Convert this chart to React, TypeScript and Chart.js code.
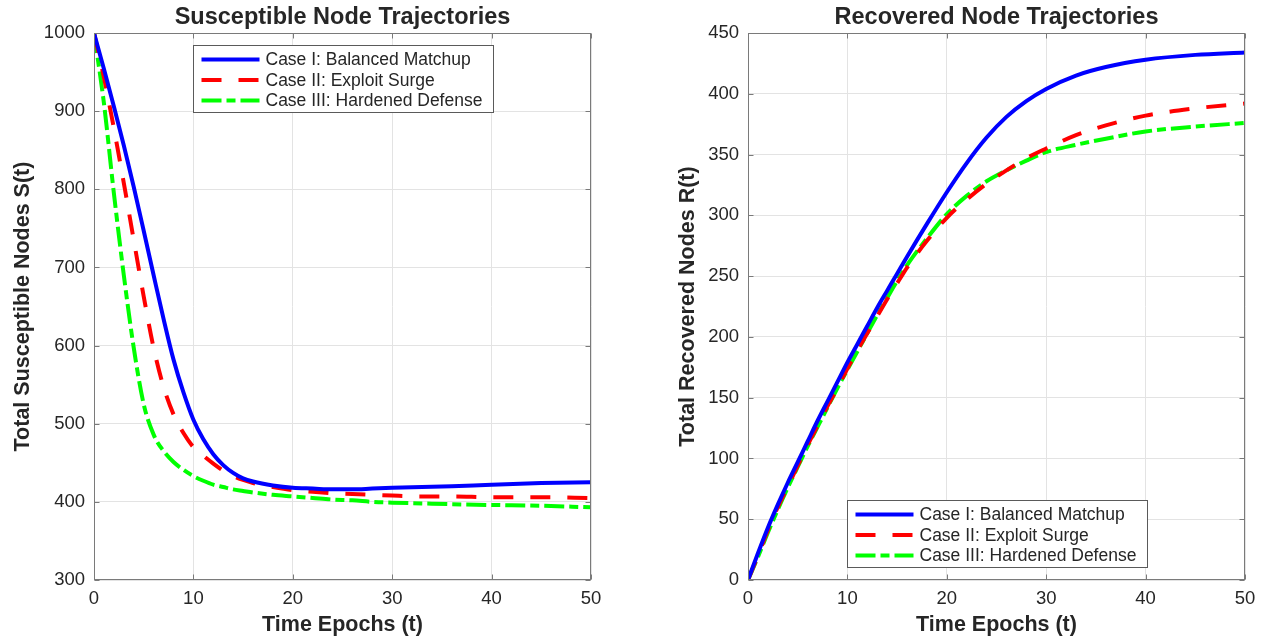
import React, { useEffect, useRef } from "react";
import { Chart, registerables } from "chart.js";

Chart.register(...registerables);

// ---- Data ----
const timeSteps = [0, 1, 2, 3, 4, 5, 6, 7, 8, 9, 10, 11, 12, 13, 14, 15, 16, 18, 20, 22, 24, 26, 28, 30, 33, 36, 40, 45, 50];

const susceptibleCaseI = [1000, 954, 906, 856, 803, 747, 690, 634, 582, 540, 505, 480, 461, 447, 437, 430, 426, 421, 418, 417, 416, 416, 417, 418, 419, 420, 422, 424, 425];
const susceptibleCaseII = [1000, 943, 878, 808, 735, 663, 597, 547, 512, 488, 470, 459, 449, 440, 433, 428, 424, 419, 415, 413, 411, 410, 409, 408, 407, 407, 406, 406, 405];
const susceptibleCaseIII = [1000, 910, 795, 690, 597, 525, 486, 465, 451, 441, 433, 427, 422, 419, 416, 414, 412, 409, 407, 405, 403, 402, 400, 399, 398, 397, 396, 395, 393];

const recoveredCaseI = [0, 22, 43, 62, 80, 97, 114, 131, 147, 163, 179, 194, 209, 224, 238, 252, 266, 293, 319, 343, 364, 381, 394, 404, 415, 422, 428, 432, 434];
const recoveredCaseII = [0, 20, 41, 60, 77, 94, 111, 127, 143, 158, 174, 189, 203, 217, 231, 244, 257, 279, 298, 313, 326, 337, 347, 355, 366, 374, 382, 388, 392];
const recoveredCaseIII = [0, 19, 39, 58, 76, 93, 110, 126, 142, 158, 173, 188, 203, 218, 232, 246, 259, 281, 301, 316, 328, 337, 345, 352, 358, 363, 369, 373, 376];

const caseLabels = ["Case I: Balanced Matchup", "Case II: Exploit Surge", "Case III: Hardened Defense"];
const caseColors = ["#0000ff", "#ff0000", "#00ff00"];
const caseDashes: number[][] = [[], [20, 17], [20, 5, 9, 5]];

const xTickStep = 10;
const xRange = [0, 50];
const susceptibleRange = [300, 1000];
const susceptibleStep = 100;
const recoveredRange = [0, 450];
const recoveredStep = 50;

const FONT = "'Liberation Sans', Arial, Helvetica, sans-serif";
const TEXT = "#262626";

function makeDatasets(series: number[][]) {
  return series.map((vals, i) => ({
    label: caseLabels[i],
    data: timeSteps.map((t, j) => ({ x: t, y: vals[j] })),
    borderColor: caseColors[i],
    backgroundColor: caseColors[i],
    borderWidth: 4,
    borderDash: caseDashes[i],
    pointRadius: 0,
    cubicInterpolationMode: "monotone" as const,
    fill: false,
  }));
}

function boxLegendPlugin(legendAt: "top" | "bottom") {
  return {
    id: "matlabBoxLegend",
    afterDraw(chart: any) {
      const { ctx, chartArea: a, scales } = chart;
      ctx.save();
      // axes box
      const L = Math.round(a.left) + 0.5;
      const R = Math.round(a.right) - 0.5;
      const T = Math.round(a.top) + 0.5;
      const B = Math.round(a.bottom) - 0.5;
      ctx.strokeStyle = "#7a7a7a";
      ctx.lineWidth = 1;
      ctx.setLineDash([]);
      ctx.strokeRect(L, T, R - L, B - T);
      // inward ticks
      const tl = 5;
      ctx.beginPath();
      scales.x.ticks.forEach((t: any) => {
        const px = Math.round(scales.x.getPixelForValue(t.value)) + 0.5;
        ctx.moveTo(px, B);
        ctx.lineTo(px, B - tl);
        ctx.moveTo(px, T);
        ctx.lineTo(px, T + tl);
      });
      scales.y.ticks.forEach((t: any) => {
        const py = Math.round(scales.y.getPixelForValue(t.value)) + 0.5;
        ctx.moveTo(L, py);
        ctx.lineTo(L + tl, py);
        ctx.moveTo(R, py);
        ctx.lineTo(R - tl, py);
      });
      ctx.stroke();

      // legend
      const bw = 300;
      const bh = 67;
      const cx = (a.left + a.right) / 2;
      const bx = Math.round(cx - bw / 2) + 0.5;
      const by = legendAt === "top" ? Math.round(a.top + 12) + 0.5 : Math.round(a.bottom - 13 - bh) + 0.5;
      ctx.fillStyle = "#ffffff";
      ctx.fillRect(bx, by, bw, bh);
      ctx.strokeStyle = "#5a5a5a";
      ctx.lineWidth = 1;
      ctx.strokeRect(bx, by, bw, bh);
      const rowY = [14, 34.5, 55];
      chart.data.datasets.forEach((ds: any, i: number) => {
        const y = by + rowY[i];
        ctx.beginPath();
        ctx.strokeStyle = ds.borderColor;
        ctx.lineWidth = 4;
        ctx.setLineDash(ds.borderDash || []);
        ctx.moveTo(bx + 8, y);
        ctx.lineTo(bx + 66, y);
        ctx.stroke();
        ctx.setLineDash([]);
        ctx.fillStyle = TEXT;
        ctx.font = `17.5px ${FONT}`;
        ctx.textBaseline = "middle";
        ctx.textAlign = "left";
        ctx.fillText(ds.label, bx + 72, y + 1);
      });
      ctx.restore();
    },
  };
}

function makeConfig(
  title: string,
  yTitle: string,
  series: number[][],
  yRange: number[],
  yStep: number,
  yAxisWidth: number,
  padLeft: number,
  padRight: number,
  legendAt: "top" | "bottom"
): any {
  return {
    type: "line",
    data: { datasets: makeDatasets(series) },
    plugins: [boxLegendPlugin(legendAt)],
    options: {
      responsive: false,
      animation: false,
      events: [],
      layout: { padding: { left: padLeft, right: padRight, top: 0, bottom: 0 } },
      plugins: {
        legend: { display: false },
        tooltip: { enabled: false },
        title: {
          display: true,
          text: title,
          fullSize: false,
          color: TEXT,
          font: { family: FONT, size: 23.5, weight: "bold", lineHeight: 1.2 },
          padding: { top: 3, bottom: 1.8 },
        },
      },
      scales: {
        x: {
          type: "linear",
          min: xRange[0],
          max: xRange[1],
          afterFit: (s: any) => {
            s.height = 61;
          },
          border: { display: false },
          grid: { color: "#e3e3e3", lineWidth: 1, drawTicks: false },
          ticks: {
            stepSize: xTickStep,
            color: TEXT,
            padding: 8,
            maxRotation: 0,
            font: { family: FONT, size: 18.5 },
            callback: (v: number) => String(v),
          },
          title: {
            display: true,
            text: "Time Epochs (t)",
            color: TEXT,
            font: { family: FONT, size: 21.5, weight: "bold", lineHeight: 1.2 },
            padding: { top: 0, bottom: 3 },
          },
        },
        y: {
          type: "linear",
          min: yRange[0],
          max: yRange[1],
          afterFit: (s: any) => {
            s.width = yAxisWidth;
          },
          border: { display: false },
          grid: { color: "#e3e3e3", lineWidth: 1, drawTicks: false },
          ticks: {
            stepSize: yStep,
            color: TEXT,
            padding: 9,
            font: { family: FONT, size: 18.5 },
            callback: (v: number) => String(v),
          },
          title: {
            display: true,
            text: yTitle,
            color: TEXT,
            font: { family: FONT, size: 21.5, weight: "bold", lineHeight: 1.2 },
            padding: { top: 10.5, bottom: 0 },
          },
        },
      },
    },
  };
}

export default function App() {
  const leftRef = useRef<HTMLCanvasElement | null>(null);
  const rightRef = useRef<HTMLCanvasElement | null>(null);

  useEffect(() => {
    if (!leftRef.current || !rightRef.current) return;
    const c1 = new Chart(
      leftRef.current,
      makeConfig(
        "Susceptible Node Trajectories",
        "Total Susceptible Nodes S(t)",
        [susceptibleCaseI, susceptibleCaseII, susceptibleCaseIII],
        susceptibleRange,
        susceptibleStep,
        94,
        0,
        42,
        "top"
      )
    );
    const c2 = new Chart(
      rightRef.current,
      makeConfig(
        "Recovered Node Trajectories",
        "Total Recovered Nodes R(t)",
        [recoveredCaseI, recoveredCaseII, recoveredCaseIII],
        recoveredRange,
        recoveredStep,
        83,
        32,
        20,
        "bottom"
      )
    );
    return () => {
      c1.destroy();
      c2.destroy();
    };
  }, []);

  return (
    <div style={{ position: "absolute", left: 0, top: 0, width: 1265, height: 641, background: "#ffffff" }}>
      <canvas ref={leftRef} width={633} height={641} style={{ position: "absolute", left: 0, top: 0, width: 633, height: 641 }} />
      <canvas ref={rightRef} width={632} height={641} style={{ position: "absolute", left: 633, top: 0, width: 632, height: 641 }} />
    </div>
  );
}
